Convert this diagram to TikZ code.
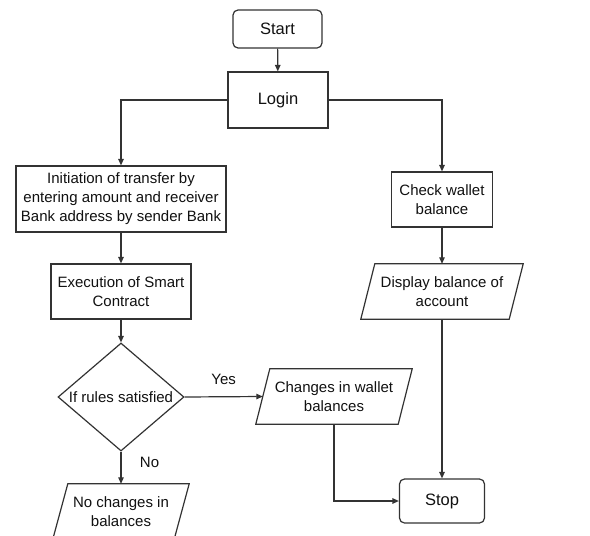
\documentclass[tikz,border=0pt]{standalone}
\usepackage{fontspec}
\setmainfont{Liberation Sans}
\usetikzlibrary{arrows.meta,shapes.geometric}
\definecolor{lc}{HTML}{333333}
\definecolor{tc}{HTML}{111111}
\begin{document}
\begin{tikzpicture}[x=1pt,y=-1pt,
  every node/.style={text=tc, font=\fontsize{15}{19}\selectfont},
  proc/.style={draw=lc, line width=1.2pt, rectangle, inner sep=0pt, align=center},
  term/.style={proc, rounded corners=5pt, font=\fontsize{16.5}{20}\selectfont},
  para/.style={rectangle, inner sep=0pt, align=center},
  dec/.style={draw=lc, line width=1.2pt, shape=diamond, aspect=1.167, inner sep=0pt, minimum width=126pt, minimum height=108pt},
  conn/.style={draw=lc, line width=1.2pt, -{Triangle[length=6.5pt,width=5.5pt]}},
  lbl/.style={font=\fontsize{15}{19}\selectfont}
]
\useasboundingbox (0,0) rectangle (590,536);
\fill[white] (0,0) rectangle (590,536);

\node[term, minimum width=89pt, minimum height=38pt] (start) at (277.5,29) {Start};
\node[proc, minimum width=100pt, minimum height=56pt, font=\fontsize{16.5}{20}\selectfont] (login) at (278,100) {Login};
\node[proc, minimum width=210pt, minimum height=66pt] (init) at (121,199) {Initiation of transfer by\\entering amount and receiver\\Bank address by sender Bank};
\node[proc, minimum width=140pt, minimum height=55pt] (exec) at (121,291.5) {Execution of Smart\\Contract};
\node[dec] (dia) at (121,397) {If rules satisfied};
\node[proc, minimum width=101pt, minimum height=55pt] (check) at (442,199.5) {Check wallet\\balance};
\node[para, minimum width=148pt, minimum height=55pt] (disp) at (442,291.5) {Display balance of\\account};
\node[para, minimum width=142pt, minimum height=55pt] (chg) at (334,396.5) {Changes in wallet\\balances};
\node[para, minimum width=121pt, minimum height=55pt] (noch) at (121,511.5) {No changes in\\balances};
\node[term, minimum width=85pt, minimum height=44pt] (stop) at (442,501) {Stop};

% parallelogram outlines
\foreach \n/\s in {disp/7, chg/7, noch/7.5}{
  \draw[lc, line width=1.2pt] ([xshift=\s pt]\n.north west) -- ([xshift=\s pt]\n.north east)
     -- ([xshift=-\s pt]\n.south east) -- ([xshift=-\s pt]\n.south west) -- cycle;
}

% connectors
\draw[conn] (start) -- (login);
\draw[conn] (login.west) -| (init.north);
\draw[conn] (login.east) -| (check.north);
\draw[conn] (init) -- (exec);
\draw[conn] (exec) -- (dia);
\draw[conn] (dia.east) -- node[lbl, above=8pt, pos=0.5] (yes) {Yes} (chg.west);
\draw[conn] (dia.south) -- node[lbl, right=15pt, pos=0.33] (no) {No} (noch.north);
\draw[conn] (check) -- (disp);
\draw[conn] (disp.south) -- (stop.north);
\draw[conn] (chg.south) |- (stop.west);
\end{tikzpicture}
\end{document}
